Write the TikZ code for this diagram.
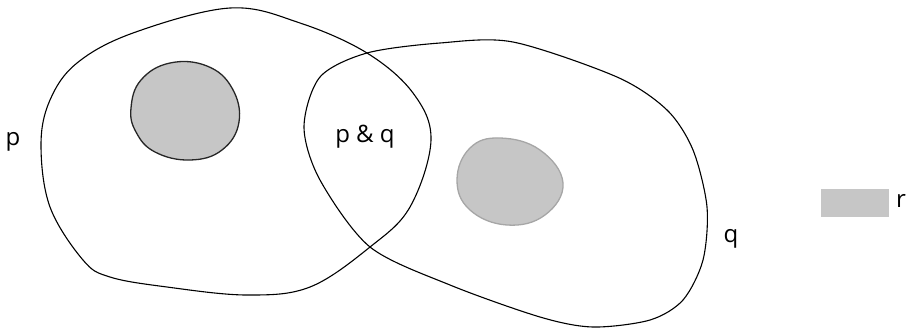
\documentclass[tikz,border=0pt]{standalone}
\usepackage{fontspec}
\setmainfont{Open Sans}
\begin{document}
\begin{tikzpicture}[x=1pt,y=-1pt,
  region/.style={draw=black,line width=1.1pt},
  blob/.style={fill=gray!45,line width=1.3pt},
  lab/.style={font=\fontsize{24}{28}\selectfont,inner sep=0pt}]
\useasboundingbox (0,0) rectangle (912,330);
% region p
\draw[region] plot[smooth cycle,tension=0.6] coordinates {
 (230,8) (133,33) (77,63) (50,100) (41,145) (50,207) (83,260) (110,277)
 (167,287) (247,295) (310,287) (370,247) (410,207) (431,140) (413,93)
 (367,53) (300,23)};
% region q
\draw[region] plot[smooth cycle,tension=0.5] coordinates {
 (513,42) (617,77) (667,110) (693,150) (707,207) (703,260) (683,300)
 (650,320) (593,327) (540,317) (450,285) (370,247) (320,180) (304,127)
 (320,77) (367,53) (440,43)};
% shaded blobs
\draw[blob,draw=black!85] plot[smooth cycle,tension=0.7] coordinates {
 (131,108) (141,80) (170,63) (207,66) (232,88) (239,122) (222,150) (190,160) (155,152) (136,132)};
\draw[blob,draw=gray!70] plot[smooth cycle,tension=0.7] coordinates {
 (457,180) (470,148) (500,138) (540,150) (563,183) (545,215) (507,225) (470,210)};
% legend
\node[fill=gray!45,minimum width=68pt,minimum height=28pt,inner sep=0pt] (leg) at (855,203) {};
\node[lab,anchor=west] (r) at (896,201) {r};
% labels
\node[lab] (p) at (13,142) {p};
\node[lab] (pq) at (365,137) {p \& q};
\node[lab] (q) at (731,239) {q};
\end{tikzpicture}
\end{document}
